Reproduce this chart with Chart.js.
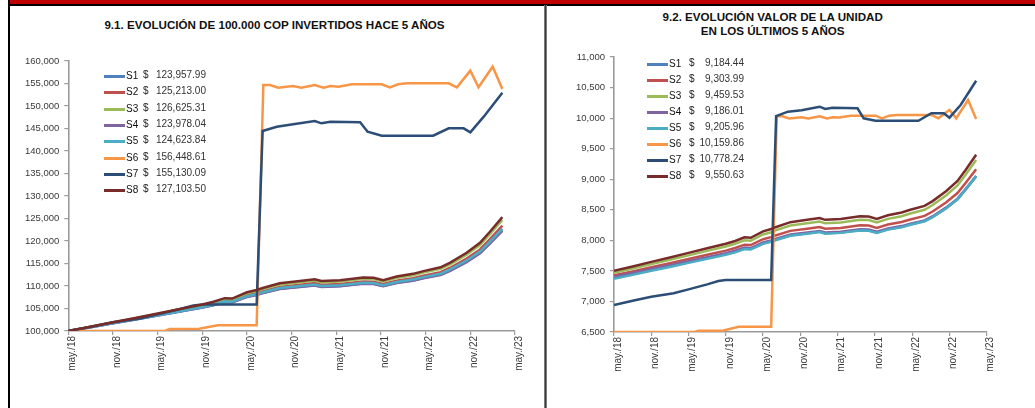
<!DOCTYPE html>
<html><head><meta charset="utf-8">
<script src="https://cdn.jsdelivr.net/npm/chart.js@4"></script>
<style>
html,body{margin:0;padding:0;}
body{width:1035px;height:408px;overflow:hidden;background:#fff;position:relative;font-family:'Liberation Sans',Arial,sans-serif;}
.abs{position:absolute;}
.title{position:absolute;font-weight:bold;font-size:11.6px;color:#111;white-space:nowrap;transform:translate(-50%,-50%);}
.leg{position:absolute;}
.row{position:absolute;left:0;width:120px;height:16px;font-size:10px;line-height:16px;color:#222;}
.mk{position:absolute;left:0;top:7px;width:21px;height:2.5px;}
.lb{position:absolute;left:22px;top:0;color:#111;}
.dl{position:absolute;top:-1px;color:#222;}
.vl{position:absolute;top:-1px;width:60px;text-align:right;color:#333;}
</style></head><body>
<div class="abs" style="left:10px;top:0;width:1025px;height:4px;background:#c00000"></div>
<div class="abs" style="left:8px;top:4px;width:1027px;height:2px;background:#000"></div>
<div class="abs" style="left:8px;top:0;width:2px;height:408px;background:#000"></div>
<div class="abs" style="left:544px;top:5px;width:3px;height:403px;background:linear-gradient(to right,#9a9a9a,#3a3a3a,#9a9a9a)"></div>

<div class="title" style="left:274.5px;top:24px;">9.1. EVOLUCIÓN DE 100.000 COP INVERTIDOS HACE 5 AÑOS</div>
<div class="title" style="left:772.7px;top:15.5px;">9.2. EVOLUCIÓN VALOR DE LA UNIDAD</div>
<div class="title" style="left:772.7px;top:30.2px;">EN LOS ÚLTIMOS 5 AÑOS</div>

<canvas id="c1" class="abs" width="530" height="368" style="left:10px;top:40px;width:530px;height:368px"></canvas>
<canvas id="c2" class="abs" width="487" height="368" style="left:548px;top:40px;width:487px;height:368px"></canvas>
<div id="leg1" class="leg" style="left:104px;top:68px;"></div>
<div id="leg2" class="leg" style="left:647px;top:56px;"></div>

<script>
// ---- data ----
const tickMonths = [0, 6, 12, 18, 24, 30, 36, 42, 48, 54, 60];
const tickLabels = ["may./18","nov./18","may./19","nov./19","may./20","nov./20","may./21","nov./21","may./22","nov./22","may./23"];
const seriesNames = ["S1","S2","S3","S4","S5","S6","S7","S8"];
const legendValuesLeft = ["123,957.99","125,213.00","126,625.31","123,978.04","124,623.84","156,448.61","155,130.09","127,103.50"];
const legendValuesRight = ["9,184.44","9,303.99","9,459.53","9,186.01","9,205.96","10,159.86","10,778.24","9,550.63"];
const colors = ["#4F81BD","#C0504D","#9BBB59","#8064A2","#4BACC6","#F79646","#2C4D75","#772C2A"];

// month index (0 = may/18)
const bundleX = [0,3,6,9,12,15,18,19.5,21,22,24,25.3,26,28.4,31.1,33.1,34,36.5,39.6,41,42.3,44.1,46.3,47.7,50,51.3,53.5,55.3,56.6,58.3];
const s6X = [0,13,13.6,17.6,20.1,25.3,26.2,27.1,28.2,30.2,31.3,33.1,34.3,35.2,36.3,38.1,42.1,43.2,44.3,45.5,51.1,52.2,54.0,55.1,57.0,58.3];
const s7X = [0,3,6,9.6,12,15,16.8,18,25.3,26.1,28,30.2,33.1,34,35.2,39.2,40.2,42.1,49,51.1,53.1,54,55.8,58.3];

// chart 9.1 (COP)
const leftS1 = [100000,100841,101726,102567,103452,104337,105222,105753,106461,106372,107611,108054,108408,109381,109824,110178,109824,110001,110532,110487,110001,110709,111240,111771,112523,113452,115399,117346,119470,122391];
const leftS2 = [100000,100879,101804,102683,103608,104533,105458,106013,106753,106660,107955,108418,108788,109805,110268,110638,110268,110453,111008,110961,110453,111193,111748,112303,113089,114060,116095,118130,120350,123403];
const leftS3 = [100000,100926,101901,102828,103803,104778,105753,106338,107118,107020,108385,108873,109263,110335,110823,111213,110823,111018,111603,111554,111018,111798,112383,112968,113796,114820,116965,119110,121450,124668];
const leftS4 = [100000,100836,101716,102552,103432,104312,105192,105720,106424,106336,107568,108008,108360,109328,109768,110120,109768,109944,110472,110428,109944,110648,111176,111704,112452,113376,115312,117248,119360,122264];
const leftS5 = [100000,100855,101755,102610,103510,104410,105310,105850,106570,106480,107740,108190,108550,109540,109990,110350,109990,110170,110710,110665,110170,110890,111430,111970,112735,113680,115660,117640,119800,122770];
const leftS6 = [100000,100000,100450,100500,101300,101300,154670,154670,154070,154450,154070,154670,154070,154450,154300,154820,154820,154150,154820,155040,155040,154150,157850,154150,158740,153800];
const leftS7 = [100000,100950,101960,102770,103700,104880,105660,105900,105900,144440,145400,145930,146670,146150,146520,146370,144290,143400,143400,145040,145040,144150,147630,152960];
const leftS8 = [100000,100950,101950,102900,103900,104900,105900,106500,107300,107200,108600,109100,109500,110600,111100,111500,111100,111300,111900,111850,111300,112100,112700,113300,114150,115200,117400,119600,122000,125300];

// chart 9.2 (unit value)
const rightS1 = [7390,7452,7518,7580,7645,7710,7776,7815,7867,7861,7952,7985,8011,8083,8116,8142,8116,8129,8168,8165,8129,8181,8221,8260,8315,8384,8528,8672,8829,9045];
const rightS2 = [7427,7492,7561,7626,7695,7764,7832,7874,7929,7922,8018,8052,8080,8155,8190,8217,8190,8203,8245,8241,8203,8258,8300,8341,8399,8471,8622,8774,8938,9165];
const rightS3 = [7470,7539,7612,7681,7754,7827,7900,7943,8002,7994,8096,8133,8162,8242,8278,8308,8278,8293,8337,8333,8293,8351,8395,8439,8501,8577,8737,8898,9072,9313];
const rightS4 = [7405,7467,7532,7594,7659,7724,7789,7829,7881,7874,7965,7998,8024,8096,8128,8154,8128,8141,8180,8177,8141,8193,8233,8272,8327,8395,8539,8682,8839,9054];
const rightS5 = [7372,7435,7501,7564,7631,7697,7763,7803,7856,7850,7943,7976,8002,8075,8108,8135,8108,8122,8161,8158,8122,8175,8215,8254,8311,8380,8526,8672,8832,9051];
const rightS6 = [6500,6500,6522,6525,6586,6586,10030,10030,9995,10015,9995,10030,9995,10015,10010,10040,10040,9997,10040,10051,10051,9997,10133,9997,10296,9985];
const rightS7 = [6941,7010,7077,7133,7198,7280,7334,7350,7350,10034,10105,10130,10187,10149,10170,10160,9997,9957,9957,10079,10079,10007,10215,10612];
const rightS8 = [7502,7573,7648,7720,7795,7870,7945,7990,8050,8042,8147,8185,8215,8297,8335,8365,8335,8350,8395,8391,8350,8410,8455,8500,8564,8642,8807,8972,9152,9400];

// ---- build ----
const FONT = "'Liberation Sans', Arial, sans-serif";
function fmt(v){ return String(Math.round(v)).replace(/\B(?=(\d{3})+(?!\d))/g, ","); }
function pts(xs, ys){ return ys.map((y,i)=>({x:xs[i], y:y})); }

function makeChart(id, series, xsList, yMin, yMax, yStep, geo){
  const datasets = series.map((ys,i)=>({
    label: seriesNames[i],
    data: pts(xsList[i], ys),
    borderColor: colors[i],
    backgroundColor: colors[i],
    borderWidth: 2.5,
    pointRadius: 0,
    tension: 0,
    fill: false,
    order: 7 - i
  }));
  const axisColor = '#9a9a9a';
  return new Chart(document.getElementById(id), {
    type: 'line',
    data: { datasets },
    options: {
      responsive: false,
      animation: false,
      devicePixelRatio: 1,
      layout: { padding: { left: 0, top: geo.top, right: geo.right, bottom: geo.bottom } },
      plugins: { legend: { display: false }, tooltip: { enabled: false }, title: { display: false } },
      scales: {
        x: {
          type: 'linear', min: 0, max: 60,
          afterBuildTicks: s => { s.ticks = tickMonths.map(v => ({ value: v })); },
          afterFit: s => { s.height = geo.xh; },
          ticks: {
            autoSkip: false, minRotation: 90, maxRotation: 90, padding: 1, labelOffset: 4,
            color: '#3a3a3a', font: { family: FONT, size: 10 },
            callback: v => tickLabels[tickMonths.indexOf(v)]
          },
          grid: { drawOnChartArea: false, drawTicks: true, tickLength: 4, color: axisColor, lineWidth: 1.2 },
          border: { display: true, color: axisColor, width: 1.6 }
        },
        y: {
          min: yMin, max: yMax,
          afterFit: s => { s.width = geo.yw; },
          ticks: { stepSize: yStep, padding: 5, color: '#3a3a3a', font: { family: FONT, size: 9.5 }, callback: v => fmt(v) },
          grid: { drawOnChartArea: false, drawTicks: true, tickLength: 4, color: axisColor, lineWidth: 1.2 },
          border: { display: true, color: axisColor, width: 1.6 }
        }
      }
    }
  });
}

const xsList = [bundleX, bundleX, bundleX, bundleX, bundleX, s6X, s7X, bundleX];
makeChart('c1', [leftS1,leftS2,leftS3,leftS4,leftS5,leftS6,leftS7,leftS8], xsList, 100000, 160000, 5000,
  { top: 21, right: 25, bottom: 27, xh: 50, yw: 58.3 });
makeChart('c2', [rightS1,rightS2,rightS3,rightS4,rightS5,rightS6,rightS7,rightS8], xsList, 6500, 11000, 500,
  { top: 17, right: 48.3, bottom: 26, xh: 50, yw: 66 });

function buildLegend(id, values, dollarX, valueRight, rowH){
  const el = document.getElementById(id);
  seriesNames.forEach((n,i)=>{
    const r = document.createElement('div');
    r.className = 'row';
    r.style.top = Math.round(i * rowH) + 'px';
    r.innerHTML = '<span class="mk" style="background:'+colors[i]+'"></span>' +
      '<span class="lb">'+n+'</span>' +
      '<span class="dl" style="left:'+dollarX+'px">$</span>' +
      '<span class="vl" style="left:'+(valueRight-60)+'px">'+values[i]+'</span>';
    el.appendChild(r);
  });
}
buildLegend('leg1', legendValuesLeft, 39, 102, 16.35);
buildLegend('leg2', legendValuesRight, 42, 97, 16.05);
</script>
</body></html>
